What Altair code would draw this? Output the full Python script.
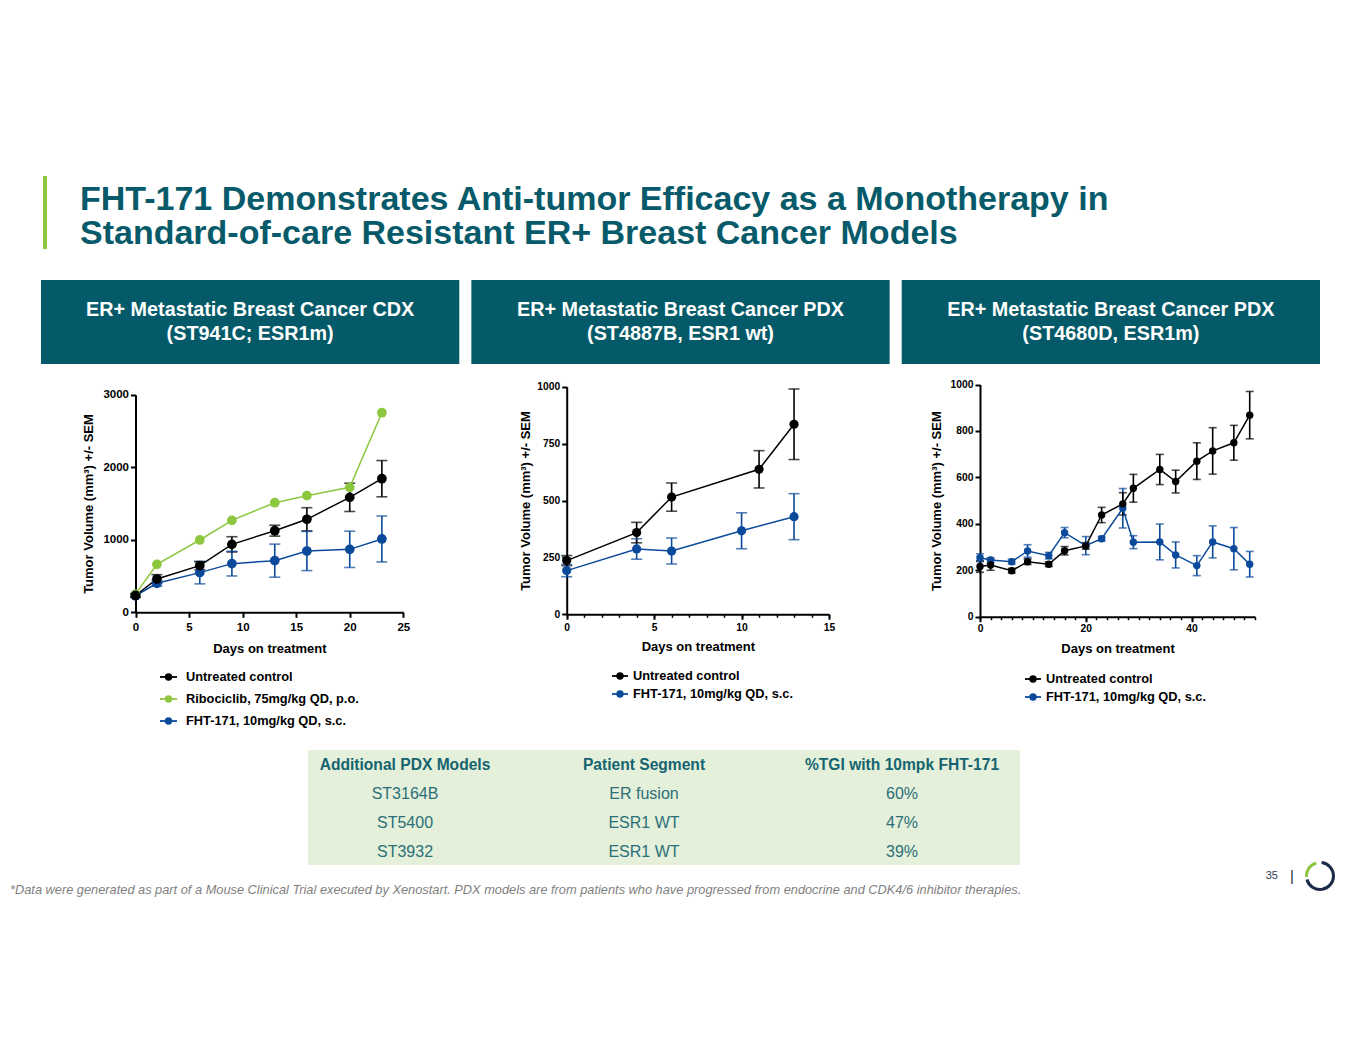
import altair as alt
import pandas as pd

W, H, M = 1349, 1039, 8
FONT = "Liberation Sans, Arial, Helvetica, sans-serif"
TEAL = "#065a69"
GREEN_BAR = "#8dc63f"

# ---------------- data ----------------
SERIES = ["Untreated control", "Ribociclib, 75mg/kg QD, p.o.", "FHT-171, 10mg/kg QD, s.c."]
COLORS = ["#000000", "#8dc63f", "#0b4a9b"]

# Panel 1: CDX ST941C
p1_days = [0, 2, 6, 9, 13, 16, 20, 23]
p1_ctrl = [232, 459, 643, 937, 1125, 1282, 1585, 1842]
p1_ctrl_sem = [25, 60, 55, 105, 75, 160, 195, 250]
p1_ribo = [250, 661, 997, 1268, 1511, 1608, 1723, 2752]
p1_fht = [228, 400, 547, 671, 712, 845, 868, 1011]
p1_fht_sem = [20, 40, 155, 170, 228, 270, 250, 317]

# Panel 2: PDX ST4887B
p2_ctrl_days = [0, 4, 6, 11, 13]
p2_ctrl = [236, 359, 515, 637, 835]
p2_ctrl_sem = [22, 45, 62, 82, 155]
p2_fht_days = [0, 4, 6, 10, 13]
p2_fht = [192, 287, 278, 367, 429]
p2_fht_sem = [27, 45, 57, 79, 101]

# Panel 3: PDX ST4680D
p3_days = [0, 2, 6, 9, 13, 16, 20, 23, 27, 29, 34, 37, 41, 44, 48, 51]
p3_ctrl = [216, 223, 198, 237, 226, 284, 305, 438, 486, 553, 634, 582, 670, 714, 749, 868]
p3_ctrl_sem = [25, 23, 10, 12, 10, 18, 14, 33, 48, 60, 65, 49, 79, 100, 75, 102]
p3_fht = [254, 244, 237, 283, 263, 362, 306, 336, 467, 321, 322, 266, 220, 322, 293, 226]
p3_fht_sem = [17, 10, 10, 27, 14, 22, 39, 10, 85, 28, 77, 56, 43, 69, 91, 55]

banner_line1 = ["ER+ Metastatic Breast Cancer CDX", "ER+ Metastatic Breast Cancer PDX", "ER+ Metastatic Breast Cancer PDX"]
banner_line2 = ["(ST941C; ESR1m)", "(ST4887B, ESR1 wt)", "(ST4680D, ESR1m)"]

tbl_headers = ["Additional PDX Models", "Patient Segment", "%TGI with 10mpk FHT-171"]
tbl_models = ["ST3164B", "ST5400", "ST3932"]
tbl_segments = ["ER fusion", "ESR1 WT", "ESR1 WT"]
tbl_tgi = [60, 47, 39]

title_lines = ["FHT-171 Demonstrates Anti-tumor Efficacy as a Monotherapy in",
               "Standard-of-care Resistant ER+ Breast Cancer Models"]
footnote = ("*Data were generated as part of a Mouse Clinical Trial executed by Xenostart. "
            "PDX models are from patients who have progressed from endocrine and CDK4/6 inhibitor therapies.")
page_number = "35"

ONE = pd.DataFrame({"k": [0]})
color_enc = alt.Color("series:N", scale=alt.Scale(domain=SERIES, range=COLORS), legend=None)


def frame(parts):
    rows = []
    for name, days, vals, sems in parts:
        for i, d in enumerate(days):
            rows.append({"series": name, "day": d, "vol": vals[i],
                         "sem": (sems[i] if sems is not None else None)})
    return pd.DataFrame(rows)


def panel(df, x_dom, x_px, y_dom, y_px, x_vals, y_vals, pt_size, cap_w, lab_size,
          minor_vals=None, ytp=7, xtp=8, xlp=3):
    xs = alt.Scale(domain=x_dom, range=[x_px[0] - M, x_px[1] - M], nice=False, zero=False)
    ys = alt.Scale(domain=y_dom, range=[y_px[0] - M, y_px[1] - M], nice=False, zero=False)
    xoff = y_px[0] - M - H
    xax = alt.Axis(orient="bottom", offset=xoff, values=x_vals, title="Days on treatment",
                   labelFontSize=lab_size, labelFlush=False, titlePadding=xtp, labelPadding=xlp,
                   format="d")
    yax = alt.Axis(orient="left", offset=-(x_px[0] - M), values=y_vals,
                   title="Tumor Volume (mm³) +/- SEM", labelFontSize=lab_size,
                   titlePadding=ytp, format="d", labelFlush=False)
    err = df[df["sem"].notna()].copy()
    err["lo"] = err["vol"] - err["sem"]
    err["hi"] = err["vol"] + err["sem"]
    caps = pd.concat([err.assign(cap=err["lo"]), err.assign(cap=err["hi"])])
    X = alt.X("day:Q", scale=xs, axis=None)
    bars = alt.Chart(err).mark_rule(strokeWidth=1.6).encode(
        x=X, y=alt.Y("lo:Q", scale=ys, axis=None), y2="hi:Q", color=color_enc)
    capm = alt.Chart(caps).mark_tick(orient="horizontal", size=cap_w, thickness=1.6).encode(
        x=X, y=alt.Y("cap:Q", scale=ys, axis=None), color=color_enc)
    line = alt.Chart(df).mark_line(strokeWidth=1.5).encode(
        x=X, y=alt.Y("vol:Q", scale=ys, axis=None), color=color_enc)
    pts = alt.Chart(df).mark_circle(size=pt_size, opacity=1).encode(
        x=X, y=alt.Y("vol:Q", scale=ys, axis=None), color=color_enc)
    out = [alt.layer(bars, capm, line, pts)]
    # axes carried by an invisible layer on the same scales
    out.append(alt.Chart(df).mark_point(opacity=0).encode(
        x=alt.X("day:Q", scale=xs, axis=xax), y=alt.Y("vol:Q", scale=ys, axis=yax)))
    if minor_vals is not None:
        out.append(alt.Chart(df).mark_point(opacity=0).encode(
            x=alt.X("day:Q", scale=xs, axis=alt.Axis(orient="bottom", offset=xoff, values=minor_vals,
                                                     labels=False, domain=False, tickSize=3,
                                                     tickWidth=1.5, title=None))))
    return out


def legend(names, x_line, x_text, y_px, pt_size=55, font_size=12.8):
    ld = pd.DataFrame({"series": names})
    ysc = alt.Scale(type="point", domain=names, range=[y_px[0] - M, y_px[1] - M], padding=0)
    y = alt.Y("series:N", scale=ysc, axis=None)
    ln = alt.Chart(ld).mark_rule(strokeWidth=1.8).encode(
        x=alt.value(x_line[0] - M), x2=alt.value(x_line[1] - M), y=y, color=color_enc)
    dot = alt.Chart(ld).mark_circle(size=pt_size, opacity=1).encode(
        x=alt.value((x_line[0] + x_line[1]) / 2 - M), y=y, color=color_enc)
    txt = alt.Chart(ld).mark_text(align="left", baseline="middle", fontWeight="bold",
                                  fontSize=font_size, font=FONT, color="black").encode(
        x=alt.value(x_text - M), y=y, text="series:N")
    return alt.layer(ln, dot, txt)


layers = []

# ---------- title ----------
layers.append(alt.Chart(ONE).mark_rect(color=GREEN_BAR).encode(
    x=alt.value(43 - M), x2=alt.value(47 - M), y=alt.value(176 - M), y2=alt.value(249 - M)))
layers.append(alt.Chart(ONE).mark_text(text=title_lines, align="left", baseline="alphabetic", font=FONT,
                                       fontSize=34, lineHeight=34, fontWeight="bold", color=TEAL).encode(
    x=alt.value(80 - M), y=alt.value(209.5 - M)))

# ---------- banners ----------
bd = pd.DataFrame({"panel": ["A", "B", "C"], "l1": banner_line1, "l2": banner_line2})
bx = alt.X("panel:N", scale=alt.Scale(type="band", domain=["A", "B", "C"], range=[41 - M, 1320 - M],
                                      paddingInner=0.028, paddingOuter=0), axis=None)
b_rect = alt.Chart(bd).mark_rect(color="#045a68").encode(x=bx, y=alt.value(280 - M), y2=alt.value(364 - M))
b_t1 = alt.Chart(bd).mark_text(color="white", font=FONT, fontWeight="bold", fontSize=19.8,
                               baseline="middle").encode(x=bx, y=alt.value(310 - M), text="l1:N")
b_t2 = alt.Chart(bd).mark_text(color="white", font=FONT, fontWeight="bold", fontSize=19.8,
                               baseline="middle").encode(x=bx, y=alt.value(334 - M), text="l2:N")
layers.append(alt.layer(b_rect, b_t1, b_t2))

# ---------- panels ----------
df1 = frame([(SERIES[2], p1_days, p1_fht, p1_fht_sem),
             (SERIES[1], p1_days, p1_ribo, None),
             (SERIES[0], p1_days, p1_ctrl, p1_ctrl_sem)])
layers += panel(df1, [0, 25], (135.5, 403.3), [0, 3000], (612.3, 394.7),
                [0, 5, 10, 15, 20, 25], [0, 1000, 2000, 3000], 95, 11, 11.5,
                ytp=7, xtp=10, xlp=4)

df2 = frame([(SERIES[2], p2_fht_days, p2_fht, p2_fht_sem),
             (SERIES[0], p2_ctrl_days, p2_ctrl, p2_ctrl_sem)])
layers += panel(df2, [0, 15], (566.7, 829), [0, 1000], (614.3, 386.7),
                [0, 5, 10, 15], [0, 250, 500, 750, 1000], 85, 11, 10.3,
                minor_vals=list(range(0, 16)), ytp=4, xtp=8, xlp=3)

df3 = frame([(SERIES[2], p3_days, p3_fht, p3_fht_sem),
             (SERIES[0], p3_days, p3_ctrl, p3_ctrl_sem)])
layers += panel(df3, [0, 52], (980, 1255), [0, 1000], (616.7, 384.5),
                [0, 20, 40], [0, 200, 400, 600, 800, 1000], 55, 8, 10.3,
                minor_vals=list(range(0, 53, 2)), ytp=7, xtp=8, xlp=2)

# ---------- legends ----------
layers.append(legend(SERIES, (160, 177), 186, (677, 721)))
layers.append(legend([SERIES[0], SERIES[2]], (612, 628), 633, (676, 694)))
layers.append(legend([SERIES[0], SERIES[2]], (1025, 1041), 1046, (679, 697)))

# ---------- table ----------
layers.append(alt.Chart(ONE).mark_rect(color="#e4f0da").encode(
    x=alt.value(308 - M), x2=alt.value(1020 - M), y=alt.value(750 - M), y2=alt.value(865 - M)))
tbl_cols = [tbl_models, tbl_segments, [f"{v}%" for v in tbl_tgi]]
col_x = [405, 644, 902]
rows = ["r1", "r2", "r3"]
ysc_rows = alt.Scale(type="point", domain=rows, range=[794 - M, 852 - M], padding=0)
for head, vals, cx in zip(tbl_headers, tbl_cols, col_x):
    hd = alt.Chart(ONE).mark_text(text=head, font=FONT, fontSize=15.6, fontWeight="bold",
                                  color="#15646f", baseline="middle").encode(
        x=alt.value(cx - M), y=alt.value(765 - M))
    bd_ = alt.Chart(pd.DataFrame({"row": rows, "txt": vals})).mark_text(
        font=FONT, fontSize=16, color="#2b6f79", baseline="middle").encode(
        x=alt.value(cx - M), y=alt.Y("row:N", scale=ysc_rows, axis=None), text="txt:N")
    layers.append(alt.layer(hd, bd_))

# ---------- footer ----------
layers.append(alt.Chart(ONE).mark_text(text=footnote, font=FONT, fontSize=12.8, fontStyle="italic",
                                       color="#7f7f7f", align="left", baseline="middle").encode(
    x=alt.value(10 - M), y=alt.value(890 - M)))
layers.append(alt.Chart(ONE).mark_text(text=page_number, font=FONT, fontSize=11, color="#333a55",
                                       align="right", baseline="middle").encode(
    x=alt.value(1278 - M), y=alt.value(876 - M)))
layers.append(alt.Chart(ONE).mark_text(text="|", font=FONT, fontSize=15, color="#1c2b4a",
                                       align="center", baseline="middle").encode(
    x=alt.value(1292 - M), y=alt.value(876 - M)))
layers.append(alt.Chart(ONE).mark_arc(outerRadius=15, innerRadius=12, color="#1c2b4a").encode(
    x=alt.value(1320 - M), y=alt.value(876 - M), theta=alt.value(0.12), theta2=alt.value(4.45)))
layers.append(alt.Chart(ONE).mark_arc(outerRadius=15, innerRadius=12, color=GREEN_BAR).encode(
    x=alt.value(1320 - M), y=alt.value(876 - M), theta=alt.value(4.65), theta2=alt.value(6.0)))

chart = alt.layer(*layers).resolve_scale(x="independent", y="independent").resolve_axis(
    x="independent", y="independent").properties(
    width=W, height=H, autosize=alt.AutoSizeParams(type="none"), padding=0
).configure(background="white", font=FONT).configure_view(stroke="transparent").configure_axis(
    grid=False, domainColor="black", domainWidth=2, tickColor="black", tickWidth=2, tickSize=5,
    labelColor="black", labelFont=FONT, labelFontWeight="bold", labelPadding=2,
    titleFont=FONT, titleFontWeight="bold", titleFontSize=13, titleColor="black")

chart.save("out.html", embed_options={"renderer": "svg", "actions": False})
